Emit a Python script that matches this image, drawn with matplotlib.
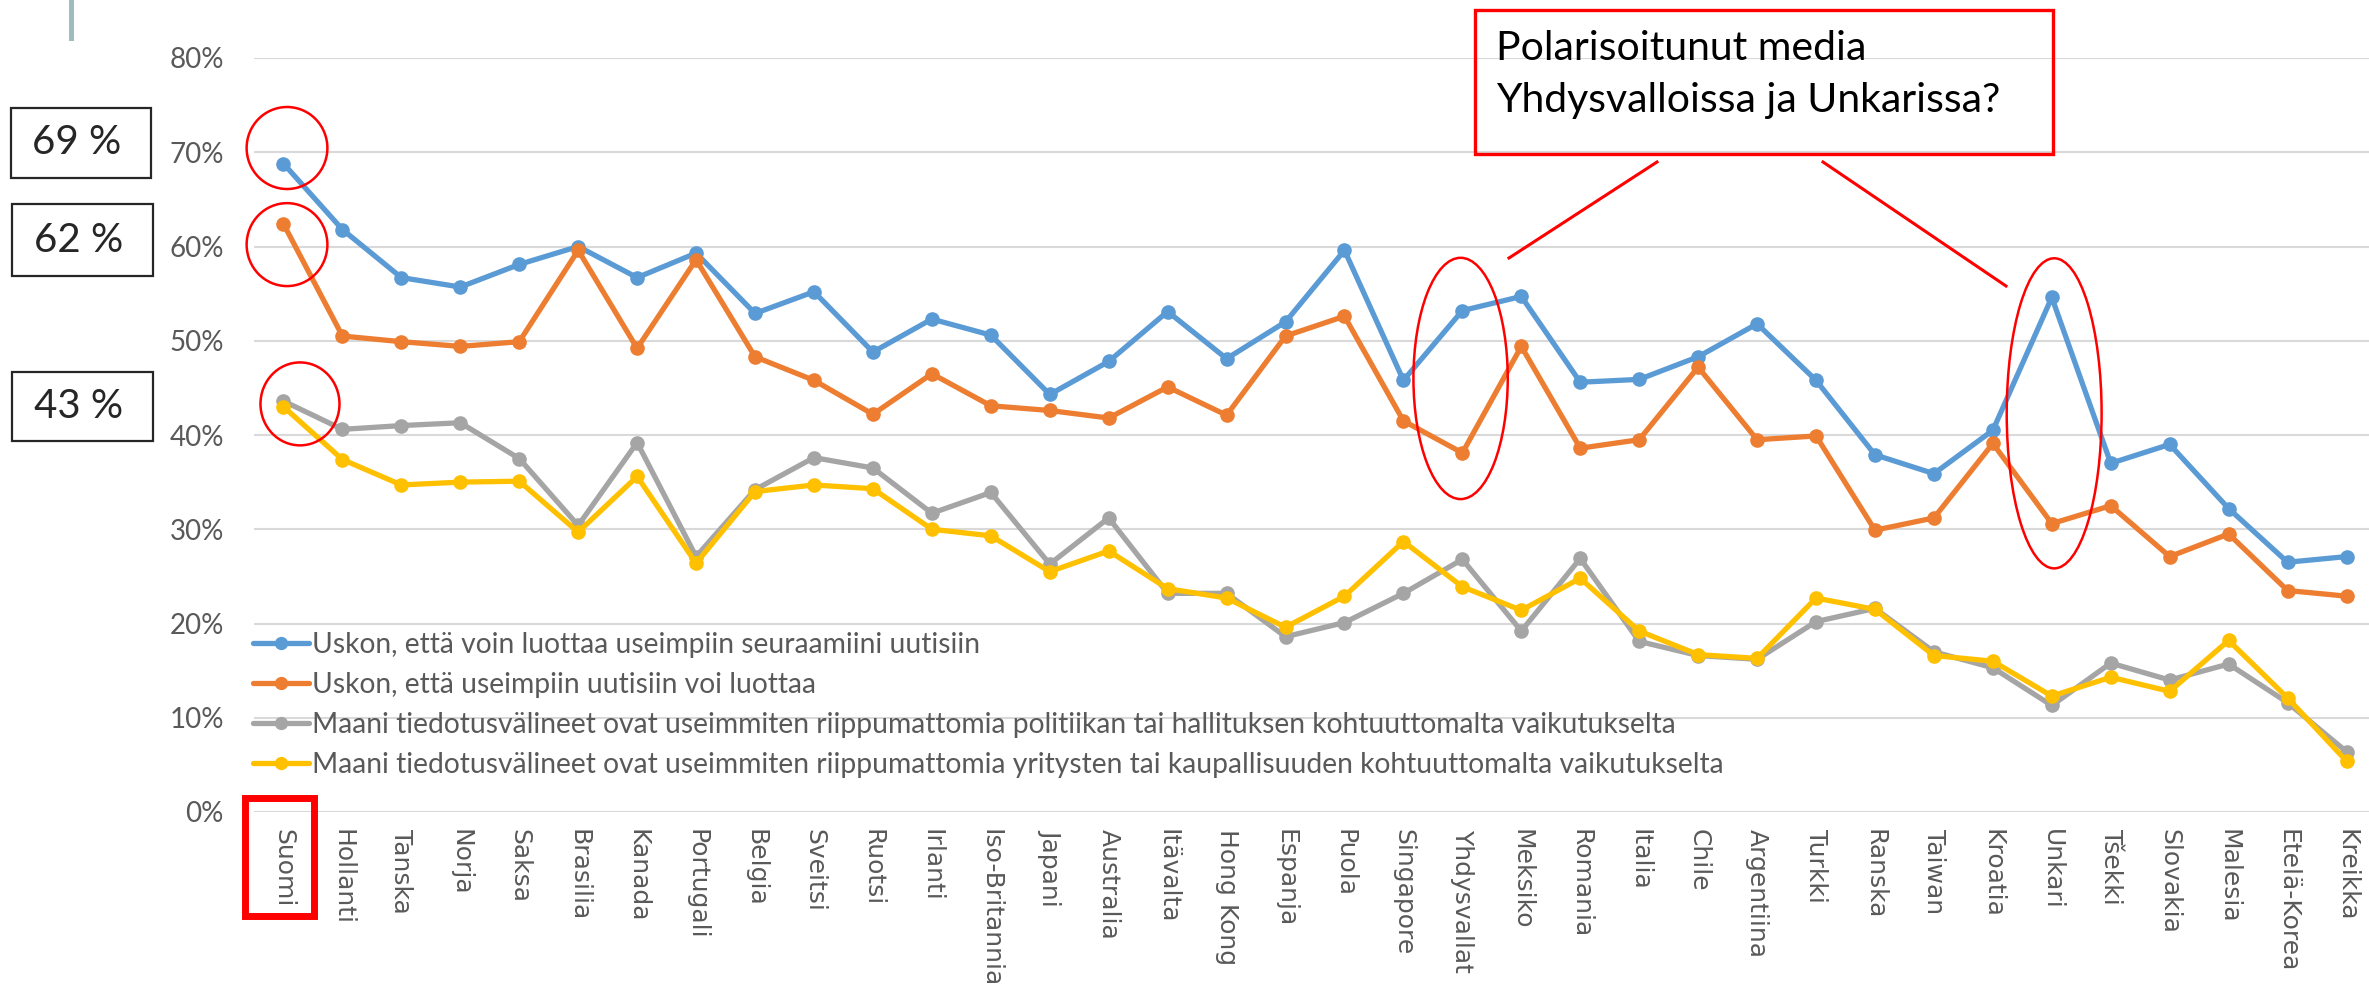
import matplotlib
matplotlib.use("Agg")
import matplotlib.pyplot as plt
from matplotlib.patches import Ellipse, Rectangle
from matplotlib.lines import Line2D

plt.rcParams['font.family'] = ['Lato', 'DejaVu Sans']

W, H = 2369, 984

countries = ["Suomi", "Hollanti", "Tanska", "Norja", "Saksa", "Brasilia", "Kanada",
             "Portugali", "Belgia", "Sveitsi", "Ruotsi", "Irlanti", "Iso-Britannia",
             "Japani", "Australia", "Itävalta", "Hong Kong", "Espanja", "Puola",
             "Singapore", "Yhdysvallat", "Meksiko", "Romania", "Italia", "Chile",
             "Argentiina", "Turkki", "Ranska", "Taiwan", "Kroatia", "Unkari",
             "Tšekki", "Slovakia", "Malesia", "Etelä-Korea", "Kreikka"]

# percent values
trust_own = [68.8, 61.8, 56.7, 55.7, 58.1, 60.0, 56.7, 59.3, 52.9, 55.2, 48.8, 52.3,
             50.6, 44.3, 47.8, 53.1, 48.1, 52.0, 59.6, 45.8, 53.2, 54.7, 45.6, 45.9,
             48.3, 51.8, 45.8, 37.9, 35.9, 40.5, 54.6, 37.0, 39.0, 32.2, 26.5, 27.1]
trust_most = [62.4, 50.5, 49.9, 49.4, 49.9, 59.6, 49.2, 58.6, 48.3, 45.8, 42.2, 46.5,
              43.1, 42.6, 41.8, 45.1, 42.1, 50.5, 52.6, 41.5, 38.1, 49.4, 38.6, 39.5,
              47.2, 39.5, 39.9, 29.9, 31.2, 39.1, 30.6, 32.5, 27.1, 29.5, 23.5, 22.9]
indep_politics = [43.6, 40.6, 41.0, 41.3, 37.5, 30.4, 39.2, 27.1, 34.2, 37.6, 36.5, 31.7,
                  33.9, 26.3, 31.2, 23.2, 23.2, 18.6, 20.1, 23.2, 26.8, 19.2, 26.9, 18.1,
                  16.6, 16.2, 20.2, 21.6, 17.0, 15.3, 11.3, 15.8, 14.0, 15.7, 11.6, 6.4]
indep_business = [43.0, 37.4, 34.7, 35.0, 35.1, 29.7, 35.6, 26.4, 34.0, 34.7, 34.3, 30.0,
                  29.3, 25.5, 27.7, 23.7, 22.7, 19.6, 22.9, 28.7, 23.9, 21.4, 24.8, 19.2,
                  16.7, 16.3, 22.7, 21.5, 16.6, 16.0, 12.3, 14.3, 12.8, 18.2, 12.1, 5.4]

series_labels = [
    "Uskon, että voin luottaa useimpiin seuraamiini uutisiin",
    "Uskon, että useimpiin uutisiin voi luottaa",
    "Maani tiedotusvälineet ovat useimmiten riippumattomia politiikan tai hallituksen kohtuuttomalta vaikutukselta",
    "Maani tiedotusvälineet ovat useimmiten riippumattomia yritysten tai kaupallisuuden kohtuuttomalta vaikutukselta",
]
series_colors = ['#5B9BD5', '#ED7D31', '#A5A5A5', '#FFC000']
y_ticks = [0, 10, 20, 30, 40, 50, 60, 70, 80]

grey_text = '#595959'

fig = plt.figure(figsize=(W / 100, H / 100), dpi=100)
ax = fig.add_axes([254 / W, 172 / H, (2376 - 254) / W, (926 - 172) / H])

x = list(range(len(countries)))
for vals, lab, col in zip([trust_own, trust_most, indep_politics, indep_business],
                          series_labels, series_colors):
    ax.plot(x, vals, color=col, lw=3.8, marker='o', ms=9.5, label=lab,
            solid_capstyle='round')

ax.set_xlim(-0.5, len(countries) - 0.5)
ax.set_ylim(0, 80)
ax.set_yticks(y_ticks)
ax.set_yticklabels([f"{v}%" for v in y_ticks], color=grey_text, fontsize=20,
                   family=['Liberation Sans Narrow', 'Lato'])
ax.set_xticks(x)
ax.set_xticklabels(countries, rotation=-90, color=grey_text, fontsize=18,
                   ha='center', va='top', family=['DejaVu Sans'])
ax.tick_params(axis='y', length=0, pad=21.6)
ax.tick_params(axis='x', length=0, pad=12)
ax.grid(axis='y', color='#D9D9D9', lw=1.5)
ax.set_axisbelow(True)
for s in ax.spines.values():
    s.set_visible(False)

leg = ax.legend(loc='upper left', bbox_to_anchor=(253 / W, 1 - 632 / H),
                bbox_transform=fig.transFigure, frameon=False, fontsize=20.3,
                borderpad=0, borderaxespad=0, handlelength=2.0,
                handletextpad=0.1, labelspacing=0.5, markerscale=0.9)
for t in leg.get_texts():
    t.set_color(grey_text)

# red circles around highlighted points (data coordinates)
circles = [(0.06, 70.45, 1.37, 8.7), (0.06, 60.2, 1.37, 8.8), (0.28, 43.3, 1.34, 8.8),
           (19.97, 46.0, 1.6, 25.6), (30.04, 42.3, 1.61, 32.9)]
for cx, cy, w, h in circles:
    ax.add_patch(Ellipse((cx, cy), w, h, fill=False, ec='#FF0000', lw=1.8,
                         clip_on=False, zorder=5))

tf = fig.transFigure


def fx(px):
    return px / W


def fy(py):
    return 1 - py / H


# value boxes on the left
for label, (x0, y0, x1, y1) in zip(["69 %", "62 %", "43 %"],
                                   [(11, 108, 151, 178), (12, 204, 153, 276),
                                    (12, 372, 153, 441)]):
    fig.add_artist(Rectangle((fx(x0), fy(y1)), fx(x1) - fx(x0), fy(y0) - fy(y1),
                             transform=tf, fill=False, ec='#262626', lw=1.6))
    fig.text(fx((x0 + x1) / 2 - 4), fy((y0 + y1) / 2), label, transform=tf,
             ha='center', va='center', fontsize=29, color='#262626')

# polarisation callout
fig.add_artist(Rectangle((fx(1475), fy(154)), fx(2053) - fx(1475), fy(10) - fy(154),
                         transform=tf, fill=False, ec='#FF0000', lw=2.4))
fig.text(fx(1496), fy(60), "Polarisoitunut media", transform=tf, ha='left',
         va='baseline', fontsize=29.5, color='black')
fig.text(fx(1496), fy(112), "Yhdysvalloissa ja Unkarissa?", transform=tf, ha='left',
         va='baseline', fontsize=29.5, color='black')
fig.add_artist(Line2D([fx(1657), fx(1509)], [fy(162), fy(258)], transform=tf,
                      color='#FF0000', lw=2.2))
fig.add_artist(Line2D([fx(1823), fx(2006)], [fy(162), fy(286)], transform=tf,
                      color='#FF0000', lw=2.2))

# box around Suomi label
fig.add_artist(Rectangle((fx(245), fy(916)), fx(314) - fx(245), fy(798) - fy(916),
                         transform=tf, fill=False, ec='#FF0000', lw=5))

# small accent line top-left
fig.add_artist(Line2D([fx(70.5), fx(70.5)], [fy(0), fy(38)], transform=tf,
                      color='#9FBDBD', lw=3.6))

fig.savefig("out.png", dpi=100)
